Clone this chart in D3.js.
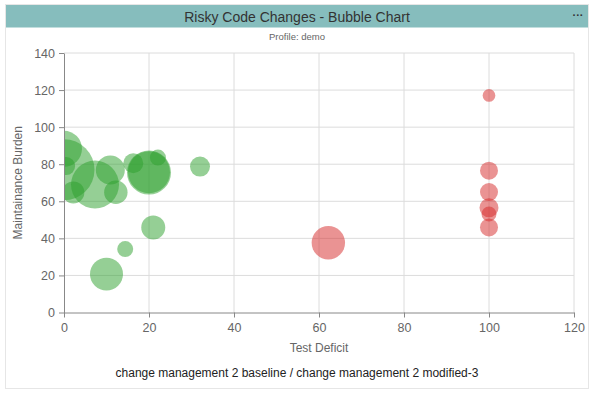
<!DOCTYPE html>
<html><head><meta charset="utf-8">
<script src="https://cdn.jsdelivr.net/npm/d3@7"></script>
<style>
html,body{margin:0;padding:0;background:#fff;}
svg{display:block;font-family:"Liberation Sans",Arial,Helvetica,sans-serif;}
</style></head><body>
<svg id="c" width="594" height="395"></svg>
<script>
const title = "Risky Code Changes - Bubble Chart";
const subtitle = "Profile: demo";
const caption = "change management 2 baseline / change management 2 modified-3";
const xLabel = "Test Deficit";
const yLabel = "Maintainance Burden";
const xTicks = [0,20,40,60,80,100,120];
const yTicks = [0,20,40,60,80,100,120,140];

// baseline-type (green) bubbles: test deficit, maintenance burden, size
const greenX = [0, 0, 0.5, 2.2, 7.3, 10.9, 12.2, 16.3, 20, 20, 22.1, 32, 21, 14.4, 10];
const greenY = [88.3, 77, 79, 64.8, 69, 76.9, 64.9, 80.5, 75.5, 75.7, 83.6, 78.7, 45.9, 34.2, 20.7];
const greenS = [324, 930, 81, 121, 576, 210, 137, 100, 484, 441, 64, 100, 144, 64, 272];

// risky (red) bubbles
const redX = [62.2, 100, 100, 100, 100, 100, 100];
const redY = [37.6, 117.1, 76.5, 65, 56.5, 53.1, 45.9];
const redS = [279, 40, 81, 81, 90, 56, 81];

const svg = d3.select("#c");
const m = {left:64, right:574, top:53, bottom:312.5};

// container
svg.append("rect").attr("x",5.5).attr("y",4.5).attr("width",583).attr("height",384)
  .attr("fill","#fff").attr("stroke","#e6e6e6");
svg.append("rect").attr("x",6).attr("y",5).attr("width",582).attr("height",22.5)
  .attr("fill","#86bdbd");
svg.append("text").attr("x",297).attr("y",21.5).attr("text-anchor","middle")
  .attr("font-size",14).attr("fill","#333").text(title);
svg.append("text").attr("x",578).attr("y",19).attr("text-anchor","middle")
  .attr("font-size",11).attr("font-weight","bold").attr("fill","#333").text("···");
svg.append("text").attr("x",297).attr("y",40).attr("text-anchor","middle")
  .attr("font-size",9.5).attr("fill","#666").text(subtitle);

const x = d3.scaleLinear().domain([0,120]).range([m.left,m.right]);
const y = d3.scaleLinear().domain([0,140]).range([m.bottom,m.top]);
const r = d3.scaleSqrt().domain([0,900]).range([0,30]);

// grid
const g = svg.append("g");
g.selectAll(".vg").data(xTicks.filter(d=>d>0)).join("line")
  .attr("x1",d=>x(d)).attr("x2",d=>x(d)).attr("y1",m.top).attr("y2",m.bottom)
  .attr("stroke","#dcdcdc");
g.selectAll(".hg").data(yTicks.filter(d=>d>0)).join("line")
  .attr("x1",m.left).attr("x2",m.right).attr("y1",d=>y(d)).attr("y2",d=>y(d))
  .attr("stroke","#dcdcdc");

// clip
svg.append("clipPath").attr("id","pc").append("rect")
  .attr("x",m.left).attr("y",m.top).attr("width",m.right-m.left).attr("height",m.bottom-m.top);

const green = greenX.map((v,i)=>({x:v,y:greenY[i],s:greenS[i]}));
const red = redX.map((v,i)=>({x:v,y:redY[i],s:redS[i]}));
const pts = svg.append("g").attr("clip-path","url(#pc)");
pts.selectAll(".gb").data(green).join("circle")
  .attr("cx",d=>x(d.x)).attr("cy",d=>y(d.y)).attr("r",d=>r(d.s))
  .attr("fill","#2ca02c").attr("fill-opacity",0.5);
pts.selectAll(".rb").data(red).join("circle")
  .attr("cx",d=>x(d.x)).attr("cy",d=>y(d.y)).attr("r",d=>r(d.s))
  .attr("fill","#d62728").attr("fill-opacity",0.5);

// axes
const xa = svg.append("g").attr("transform",`translate(0,${m.bottom})`)
  .call(d3.axisBottom(x).tickValues(xTicks).tickSize(5).tickSizeOuter(0));
const ya = svg.append("g").attr("transform",`translate(${m.left},0)`)
  .call(d3.axisLeft(y).tickValues(yTicks).tickSize(5).tickSizeOuter(0));
[xa,ya].forEach(a=>{
  a.select(".domain").attr("stroke","#888");
  a.selectAll(".tick line").attr("stroke","#888");
  a.selectAll(".tick text").attr("fill","#666").attr("font-size",12.5)
   .attr("font-family","'Liberation Sans',Arial,sans-serif");
});
xa.selectAll(".tick text").attr("dy","0.95em");
ya.selectAll(".tick text").attr("x",-9);

svg.append("text").attr("x",(m.left+m.right)/2).attr("y",352).attr("text-anchor","middle")
  .attr("font-size",12).attr("fill","#666").text(xLabel);
svg.append("text").attr("transform",`translate(22,${(m.top+m.bottom)/2}) rotate(-90)`)
  .attr("text-anchor","middle").attr("font-size",12).attr("fill","#666").text(yLabel);
svg.append("text").attr("x",297).attr("y",377).attr("text-anchor","middle")
  .attr("font-size",12).attr("fill","#222").text(caption);
</script>
</body></html>
